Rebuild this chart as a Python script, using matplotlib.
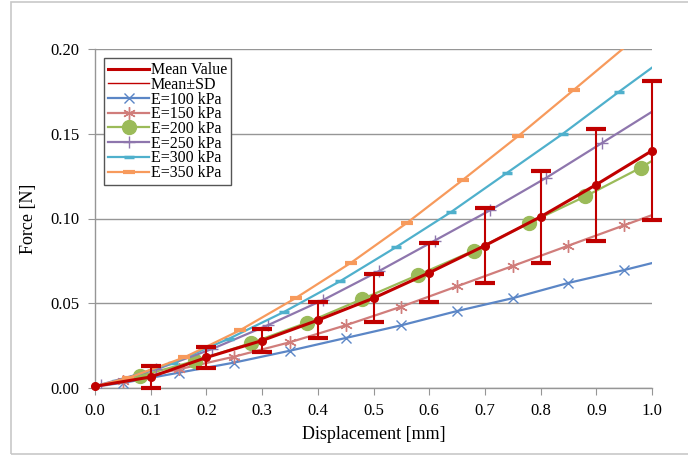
import matplotlib
matplotlib.use("Agg")
import matplotlib.pyplot as plt
from matplotlib.patches import Rectangle

plt.rcParams["font.family"] = ["Liberation Serif", "DejaVu Serif"]

# Mean curve with standard deviation
mean_x = [0.0, 0.1, 0.2, 0.3, 0.4, 0.5, 0.6, 0.7, 0.8, 0.9, 1.0]
mean_y = [0.001, 0.0065, 0.018, 0.028, 0.040, 0.053, 0.068, 0.084, 0.101, 0.120, 0.140]
mean_sd = [0.0, 0.0065, 0.006, 0.007, 0.0105, 0.014, 0.0175, 0.022, 0.027, 0.033, 0.041]

# Simulated curves (first and last points are line ends, markers in between)
e100_x = [0.0, 0.05, 0.15, 0.25, 0.35, 0.45, 0.55, 0.65, 0.75, 0.85, 0.95, 1.0]
e100_y = [0.001, 0.003, 0.009, 0.015, 0.022, 0.0295, 0.037, 0.0454, 0.053, 0.062, 0.0696, 0.0737]

e150_x = [0.0, 0.05, 0.15, 0.25, 0.35, 0.45, 0.55, 0.65, 0.75, 0.85, 0.95, 1.0]
e150_y = [0.001, 0.004, 0.011, 0.0185, 0.027, 0.037, 0.048, 0.060, 0.072, 0.084, 0.096, 0.102]

e200_x = [0.0, 0.08, 0.18, 0.28, 0.38, 0.48, 0.58, 0.68, 0.78, 0.88, 0.98, 1.0]
e200_y = [0.001, 0.007, 0.016, 0.0265, 0.0385, 0.0525, 0.0667, 0.081, 0.0974, 0.113, 0.130, 0.134]

e250_x = [0.0, 0.01, 0.11, 0.21, 0.31, 0.41, 0.51, 0.61, 0.71, 0.81, 0.91, 1.0]
e250_y = [0.001, 0.002, 0.011, 0.023, 0.037, 0.052, 0.069, 0.087, 0.105, 0.124, 0.1445, 0.163]

e300_x = [0.0, 0.04, 0.14, 0.24, 0.34, 0.44, 0.54, 0.64, 0.74, 0.84, 0.94, 1.0]
e300_y = [0.001, 0.004, 0.015, 0.029, 0.045, 0.063, 0.083, 0.104, 0.127, 0.150, 0.1746, 0.189]

e350_x = [0.0, 0.06, 0.16, 0.26, 0.36, 0.46, 0.56, 0.66, 0.76, 0.86, 0.96, 1.0]
e350_y = [0.001, 0.006, 0.018, 0.034, 0.053, 0.074, 0.0974, 0.1227, 0.1487, 0.176, 0.2035, 0.215]

x_ticks = [0.0, 0.1, 0.2, 0.3, 0.4, 0.5, 0.6, 0.7, 0.8, 0.9, 1.0]
y_ticks = [0.00, 0.05, 0.10, 0.15, 0.20]

fig = plt.figure(figsize=(6.88, 4.55), dpi=100)
fig.patches.append(Rectangle((11 / 688, 1 / 455), 0.99, 452 / 455, transform=fig.transFigure,
                             fill=False, edgecolor="#c8c8c8", linewidth=1.2))
ax = fig.add_axes([95 / 688, 1 - 388 / 455, 557 / 688, 339 / 455])

series = [
    ("E=100 kPa", e100_x, e100_y, "#5b86c6", "x", 7, 1.0),
    ("E=150 kPa", e150_x, e150_y, "#d07d7b", (6, 2, 0), 9, 1.0),
    ("E=200 kPa", e200_x, e200_y, "#9bbb59", "o", 10, 0),
    ("E=250 kPa", e250_x, e250_y, "#8e76ad", "+", 9, 1.0),
    ("E=300 kPa", e300_x, e300_y, "#4fb0cc", "_", 7, 2.5),
    ("E=350 kPa", e350_x, e350_y, "#f79a5c", "_", 8, 3.0),
]

# Mean value with error bars (no bar at the origin)
ax.errorbar(mean_x, mean_y, yerr=mean_sd, color="#c00000", linewidth=2.2,
            marker="o", markersize=5.5, elinewidth=1.5, capsize=7, capthick=3,
            errorevery=(1, 1), zorder=10, clip_on=False)

handles = []
for label, xs, ys, color, marker, ms, mew in series:
    (h,) = ax.plot(xs, ys, color=color, linewidth=1.6, marker=marker,
                   markersize=ms, markeredgewidth=mew if mew else 1.0,
                   markevery=list(range(1, len(xs) - 1)), label=label, zorder=5)
    handles.append(h)

(mean_handle,) = ax.plot([], [], color="#c00000", linewidth=2.2, label="Mean Value")
(sd_handle,) = ax.plot([], [], color="#c00000", linewidth=1.0, label="Mean\u00b1SD")

ax.set_xlim(0, 1.0)
ax.set_ylim(0, 0.20)
ax.set_xticks(x_ticks)
ax.set_yticks(y_ticks)
ax.set_xticklabels([f"{t:.1f}" for t in x_ticks])
ax.set_yticklabels([f"{t:.2f}" for t in y_ticks])
ax.tick_params(axis="both", labelsize=12, color="#969696", length=5, direction="out",
               pad=6)

ax.spines["top"].set_visible(False)
ax.spines["right"].set_visible(False)
for s in ("left", "bottom"):
    ax.spines[s].set_color("#969696")
    ax.spines[s].set_linewidth(1.0)

ax.yaxis.grid(True, color="#969696", linewidth=1.0)
ax.set_axisbelow(True)

ax.set_xlabel("Displacement [mm]", fontsize=13, labelpad=5)
ax.set_ylabel("Force [N]", fontsize=13, labelpad=10)

leg = ax.legend(handles=[mean_handle, sd_handle] + handles, loc="upper left",
                bbox_to_anchor=(0.016, 0.973), borderaxespad=0, fontsize=11.5,
                handlelength=2.6, handletextpad=0.1, labelspacing=-0.08,
                borderpad=0.25, fancybox=False, framealpha=1.0)
leg.get_frame().set_edgecolor("#555555")
leg.get_frame().set_linewidth(1.0)

plt.savefig("out.png", dpi=100)
